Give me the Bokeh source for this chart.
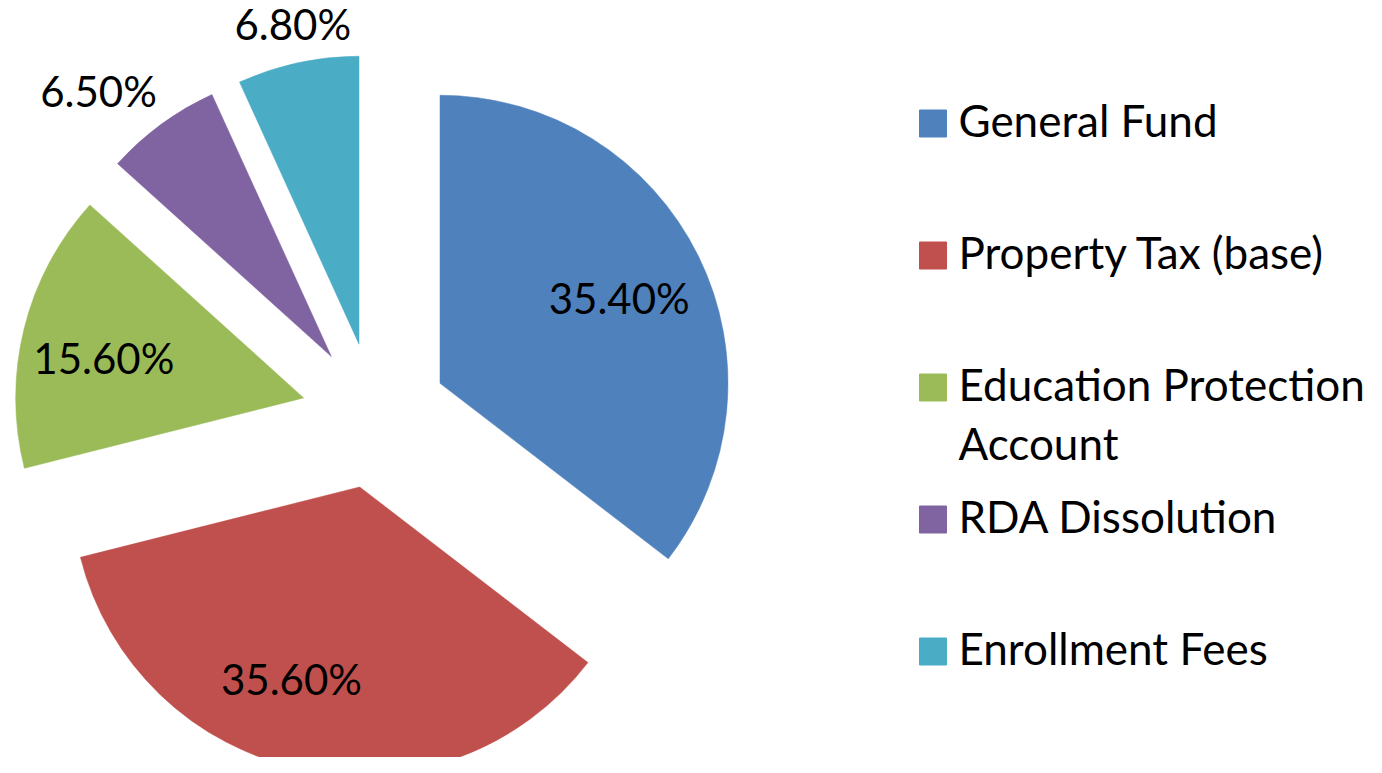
import math
import textwrap
from bokeh.plotting import figure
from bokeh.models import Range1d
from bokeh.core.properties import value
from bokeh.embed import file_html
from bokeh.resources import INLINE

# ---- data ----
categories = ["General Fund", "Property Tax (base)", "Education Protection Account",
              "RDA Dissolution", "Enrollment Fees"]
values = [35.4, 35.6, 15.6, 6.5, 6.8]
colors = ["#4F81BD", "#C0504D", "#9BBB59", "#8064A2", "#4BACC6"]

# ---- layout constants ----
W, H = 1366, 757
CX, CY = 374, 757 - 415    # pie centre (data px, y up)
R = 288                    # radius
EXPLODE = 73               # explosion distance
label_dist = [0.684, 0.72, 0.705, 1.215, 1.12]   # fraction of R from slice apex
label_shift = [1.7, 7.5, -3.7, -5.5, 0.4]          # degrees
FONT = "Lato"
FS_LABEL = "42px"
FS_LEG = "44px"
TXT_ADJ = 4                # middle-baseline correction

p = figure(width=W, height=H, x_range=Range1d(0, W), y_range=Range1d(0, H),
           output_backend="svg", toolbar_location=None, min_border=0,
           outline_line_color=None, background_fill_color="white")
p.axis.visible = False
p.grid.visible = False

total = sum(values)
cum = 0.0
wx, wy, sa, ea = [], [], [], []
lx, ly, ltxt = [], [], []
for v, sh, ld in zip(values, label_shift, label_dist):
    t1 = cum / total * 2 * math.pi
    t2 = (cum + v) / total * 2 * math.pi
    mid = (t1 + t2) / 2
    ax = CX + EXPLODE * math.sin(mid)
    ay = CY + EXPLODE * math.cos(mid)
    wx.append(ax)
    wy.append(ay)
    sa.append(math.pi / 2 - t2)
    ea.append(math.pi / 2 - t1)
    b = mid + math.radians(sh)
    lx.append(ax + ld * R * math.sin(b))
    ly.append(ay + ld * R * math.cos(b) + TXT_ADJ)
    ltxt.append(f"{v:.2f}%")
    cum += v

p.wedge(x=wx, y=wy, radius=R, start_angle=sa, end_angle=ea,
        fill_color=colors, line_color=colors, line_width=0.5)

p.text(x=lx, y=ly, text=ltxt, text_align="center", text_baseline="middle",
       text_font=value(FONT), text_font_size=FS_LABEL, text_color="black")

# ---- legend ----
SQ_X = 932.5
LEG_TOP = 757 - 123
LEG_STEP = 132
LINE_H = 59
TEXT_X = 958
sq_x, sq_y, tx, ty, tt = [], [], [], [], []
for i, c in enumerate(categories):
    yc = LEG_TOP - i * LEG_STEP
    sq_x.append(SQ_X)
    sq_y.append(yc)
    for j, line in enumerate(textwrap.wrap(c, 20)):
        tx.append(TEXT_X)
        ty.append(yc - j * LINE_H + TXT_ADJ)
        tt.append(line)

p.scatter(x=sq_x, y=sq_y, marker="square", size=27, fill_color=colors, line_color=colors)
p.text(x=tx, y=ty, text=tt, text_align="left", text_baseline="middle",
       text_font=value(FONT), text_font_size=FS_LEG, text_color="black")

open("out.html", "w").write(file_html(p, INLINE))
